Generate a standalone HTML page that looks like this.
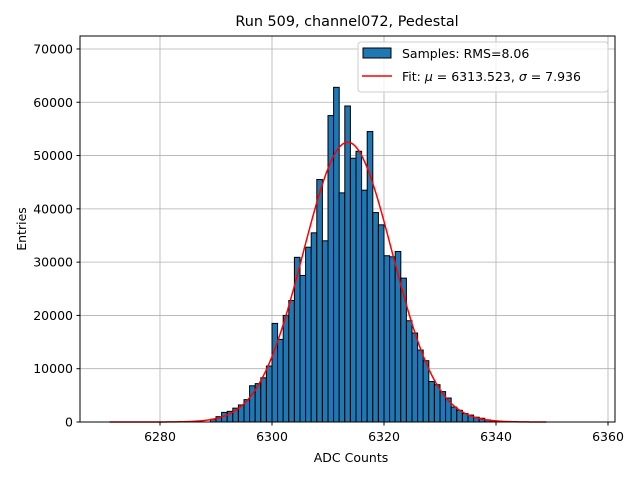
<!DOCTYPE html>
<html><head><meta charset="utf-8"><style>
body{margin:0;background:#fff;}
svg{display:block;font-family:"DejaVu Sans","Liberation Sans",sans-serif;}
</style></head><body>
<svg id="chart" width="640" height="480">
<rect x="0" y="0" width="640" height="480" fill="#fff"/>
<g id="grid"></g><g id="bars"></g><g id="fit"></g>
<rect x="80" y="36" width="535" height="386" fill="none" stroke="#000" stroke-width="1"/>
<g id="ticks"></g>
<text x="347" y="26" text-anchor="middle" font-size="14.4">Run 509, channel072, Pedestal</text>
<text x="351" y="462" text-anchor="middle" font-size="12.5">ADC Counts</text>
<text transform="translate(26,229) rotate(-90)" text-anchor="middle" font-size="12.5">Entries</text>
<g>
<rect x="358" y="42" width="250" height="50" rx="3" fill="#fff" fill-opacity="0.8" stroke="#ccc"/>
<rect x="363" y="48" width="28" height="10" fill="#1f77b4" stroke="#000"/>
<text x="402" y="58" font-size="12.5">Samples: RMS=8.06</text>
<line x1="362" y1="76" x2="392" y2="76" stroke="red" stroke-width="1.5"/>
<text x="402" y="81" font-size="12.5">Fit: <tspan font-style="italic">μ</tspan> = 6313.523, <tspan font-style="italic">σ</tspan> = 7.936</text>
</g>
</svg>
<script>
const binStarts=[6289,6290,6291,6292,6293,6294,6295,6296,6297,6298,6299,6300,6301,6302,6303,6304,6305,6306,6307,6308,6309,6310,6311,6312,6313,6314,6315,6316,6317,6318,6319,6320,6321,6322,6323,6324,6325,6326,6327,6328,6329,6330,6331,6332,6333,6334,6335,6336,6337,6338,6339,6340];
const counts=[500,1000,1800,2000,2600,3200,4200,6800,7200,8300,10500,18500,15500,20000,22800,30900,27500,32800,35500,45500,34000,57500,62800,43000,59300,49500,50800,43500,54500,39300,37000,31200,31000,32000,27000,19000,16700,13500,11500,7600,7000,5700,4500,2800,2200,1600,1300,900,700,400,250,150];
const xTicks=[6280,6300,6320,6340,6360];
const yTicks=[0,10000,20000,30000,40000,50000,60000,70000];
const fitMu=6313.523, fitSigma=7.936, fitAmp=52500, fitRange=[6271,6349];
const NS="http://www.w3.org/2000/svg";
const X=v=>160+(v-6280)*5.6;
const Y=v=>422-v*0.005329;
function mk(tag,attrs,parent){const e=document.createElementNS(NS,tag);for(const k in attrs)e.setAttribute(k,attrs[k]);document.getElementById(parent).appendChild(e);return e;}
xTicks.forEach(t=>{
 const g=mk('line',{x1:X(t),x2:X(t),y1:36,y2:422,stroke:'#b0b0b0','stroke-width':0.8},'grid');
 
 
 mk('line',{x1:X(t),x2:X(t),y1:422,y2:425.5,stroke:'#000'},'ticks');
 const l=mk('text',{x:X(t),y:441,'text-anchor':'middle','font-size':12.5},'ticks');l.textContent=t;
 
 
});
yTicks.forEach(t=>{
 const g=mk('line',{x1:80,x2:615,y1:Y(t),y2:Y(t),stroke:'#b0b0b0','stroke-width':0.8},'grid');
 
 
 mk('line',{x1:76.5,x2:80,y1:Y(t),y2:Y(t),stroke:'#000'},'ticks');
 const l=mk('text',{x:73,y:Y(t)+4.5,'text-anchor':'end','font-size':12.5},'ticks');l.textContent=t;
 
 
});
binStarts.forEach((b,i)=>{
 const r=mk('rect',{x:X(b),y:Y(counts[i]),width:X(b+1)-X(b),height:422-Y(counts[i]),fill:'#1f77b4',stroke:'#000','stroke-width':1},'bars');
 
 
});
let d='';
for(let v=fitRange[0];v<=fitRange[1];v+=0.25){const y=fitAmp*Math.exp(-0.5*((v-fitMu)/fitSigma)**2);d+=(d?'L':'M')+X(v).toFixed(2)+','+Y(y).toFixed(2);}
const p=mk('path',{d:d,fill:'none',stroke:'red','stroke-width':1.5},'fit');


</script>
</body></html>
